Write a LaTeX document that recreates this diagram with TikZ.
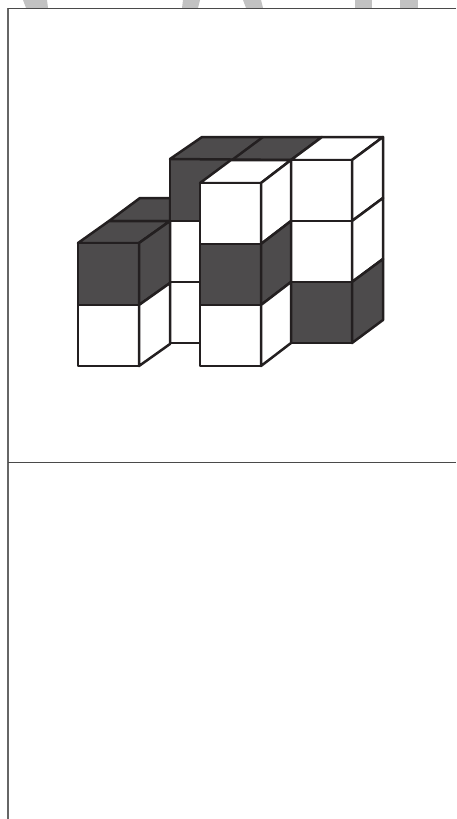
\documentclass[tikz,border=0pt]{standalone}
\definecolor{ink}{HTML}{231F20}
\definecolor{dk}{HTML}{4D4B4C}
\definecolor{wm}{HTML}{C2C2C2}
\definecolor{frm}{HTML}{4A4A4A}
\definecolor{frmleft}{HTML}{666666}
\tikzset{
  dface/.style={fill=dk,draw=ink,line width=2.5pt,line join=round},
  wface/.style={fill=white,draw=ink,line width=2.5pt,line join=round},
  frameline/.style={draw=frm,line width=1pt},
  frameleft/.style={draw=frmleft,line width=1.6pt}
}
\begin{document}
\begin{tikzpicture}[x=1pt,y=-1pt]
\useasboundingbox (0,0) rectangle (456,819);
% watermark remains
\fill[wm] (23,0) -- (47,0) -- (48,8) -- (26,8) -- cycle;
\fill[wm] (183,0) -- (200,0) -- (198,8) -- (182,8) -- cycle;
\fill[wm] (243,0) -- (261,0) -- (263,8) -- (246,8) -- cycle;
\fill[wm] (355,0) -- (372,0) -- (372,8) -- (355,8) -- cycle;
\fill[wm] (400,0) -- (418,0) -- (418,8) -- (400,8) -- cycle;
% frame
\draw[frameleft] (8,8) -- (8,819);
\draw[frameline] (456,8) -- (8,8);
\draw[frameline] (8,462) -- (456,462);
% back left row
\draw[dface] (109,221) -- (140,198) -- (170,198) -- (170,221) -- cycle;
% middle strip
\draw[wface] (170,221) rectangle (200,282);
\draw[wface] (170,282) rectangle (200,343);
% back dark block
\draw[dface] (170,159) -- (291,159) -- (291,183) -- (200,183) -- (200,221) -- (170,221) -- cycle;
\draw[dface] (170,159) -- (202,137) -- (322,137) -- (291,160) -- cycle;
\draw[dface] (232,160) -- (263,137);
% left stack
\draw[dface] (78,243) -- (109,221) -- (170,221) -- (139,243) -- cycle;
\draw[dface] (78,243) rectangle (139,305);
\draw[wface] (78,305) rectangle (139,366);
\draw[dface] (139,243) -- (170,221) -- (170,283) -- (139,305) -- cycle;
\draw[wface] (139,305) -- (170,283) -- (170,344) -- (139,366) -- cycle;
% right stack
\draw[wface] (291,160) -- (322,137) -- (383,137) -- (352,160) -- cycle;
\draw[wface] (291,160) rectangle (352,221);
\draw[wface] (291,221) rectangle (352,282);
\draw[dface] (291,282) rectangle (352,343);
\draw[wface] (352,160) -- (383,137) -- (383,198) -- (352,221) -- cycle;
\draw[wface] (352,221) -- (383,198) -- (383,259) -- (352,282) -- cycle;
\draw[dface] (352,282) -- (383,259) -- (383,320) -- (352,343) -- cycle;
% middle stack
\draw[wface] (200,183) -- (231,160) -- (291,160) -- (261,183) -- cycle;
\draw[wface] (200,183) rectangle (261,244);
\draw[dface] (200,244) rectangle (261,305);
\draw[wface] (200,305) rectangle (261,366);
\draw[wface] (261,183) -- (291,160) -- (291,221) -- (261,244) -- cycle;
\draw[dface] (261,244) -- (291,221) -- (291,282) -- (261,305) -- cycle;
\draw[wface] (261,305) -- (291,282) -- (291,343) -- (261,366) -- cycle;
\end{tikzpicture}
\end{document}
